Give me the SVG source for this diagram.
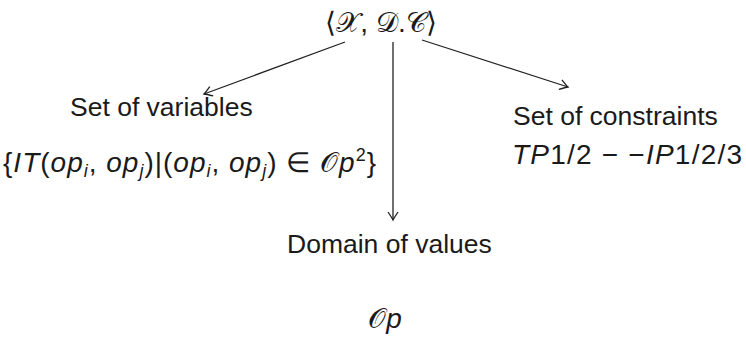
<svg xmlns="http://www.w3.org/2000/svg" width="746" height="341" viewBox="0 0 746 341">
<style>
.t{font-family:"Liberation Sans",Arial,sans-serif;font-size:26.5px;fill:#1a1a1a}
.m{font-family:"Liberation Sans",Arial,sans-serif;font-size:28px;fill:#1a1a1a}
.i{font-style:italic}
.c{font-family:"DejaVu Serif","Liberation Serif",serif}
.s{font-size:18px}
.e{fill:none;stroke:#222;stroke-width:1.3}
</style>
<defs>
<marker id="ah" markerUnits="userSpaceOnUse" markerWidth="16" markerHeight="16" refX="0" refY="0" viewBox="-10 -8 12 16" orient="auto">
<path d="M-8,-5 Q-2,-1 0,0 Q-2,1 -8,5" fill="none" stroke="#222" stroke-width="1.3"/>
</marker>
</defs>
<g id="root">
<text class="m" x="381" y="32" text-anchor="middle">⟨<tspan class="c">𝒳</tspan>, <tspan class="c">𝒟</tspan>.<tspan class="c">𝒞</tspan>⟩</text>
</g>
<g id="connectors">
<line class="e" x1="345" y1="42" x2="204" y2="94" marker-end="url(#ah)"/>
<line class="e" x1="393" y1="42" x2="393" y2="220" marker-end="url(#ah)"/>
<line class="e" x1="422" y1="40" x2="568" y2="87" marker-end="url(#ah)"/>
</g>
<g id="variables">
<text class="t" x="70" y="116">Set of variables</text>
<text class="m" x="3" y="172" textLength="373" lengthAdjust="spacing">{<tspan class="i">IT</tspan>(<tspan class="i">op</tspan><tspan class="i s" dy="5">i</tspan><tspan dy="-5">, </tspan><tspan class="i">op</tspan><tspan class="i s" dy="5">j</tspan><tspan dy="-5">)|(</tspan><tspan class="i">op</tspan><tspan class="i s" dy="5">i</tspan><tspan dy="-5">, </tspan><tspan class="i">op</tspan><tspan class="i s" dy="5">j</tspan><tspan dy="-5">) ∈ </tspan><tspan class="c">𝒪</tspan><tspan class="i">p</tspan><tspan class="s" dy="-11">2</tspan><tspan dy="11">}</tspan></text>
</g>
<g id="constraints">
<text class="t" x="513" y="125">Set of constraints</text>
<text class="m" x="512" y="164" textLength="230" lengthAdjust="spacing"><tspan class="i">TP</tspan>1/2 − −<tspan class="i">IP</tspan>1/2/3</text>
</g>
<g id="domain">
<text class="t" x="287" y="253">Domain of values</text>
<text class="m" x="385" y="328" text-anchor="middle"><tspan class="c">𝒪</tspan><tspan class="i">p</tspan></text>
</g>
</svg>
